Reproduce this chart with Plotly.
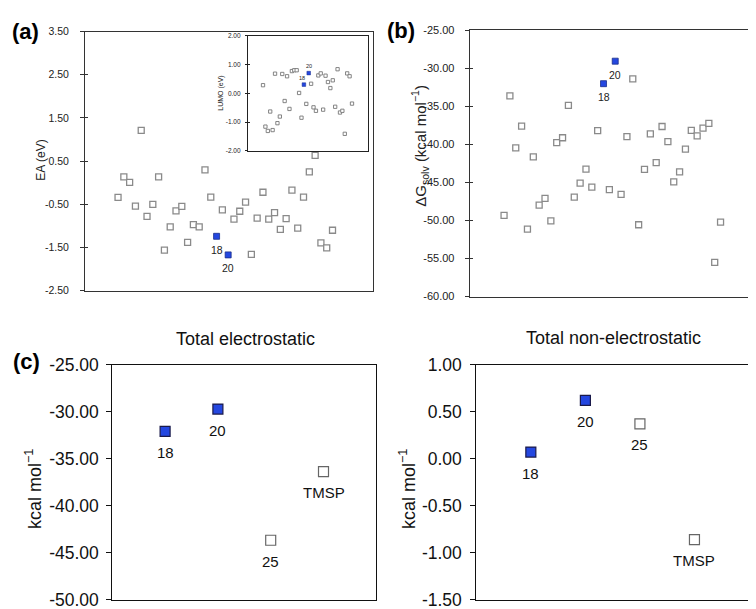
import plotly.graph_objects as go

# ---------------- data ----------------
compounds = list(range(1, 39))
highlight = [18, 20]

ea = [-0.34, 0.135, 0.01, -0.54, 1.21, -0.78, -0.50, 0.135, -1.56, -1.02,
      -0.65, -0.545, -1.38, -0.97, -1.02, 0.30, -0.335, -1.24, -0.63, -1.67,
      -0.84, -0.66, -0.45, -1.66, -0.82, -0.22, -0.84, -0.69, -1.08, -0.83,
      -0.17, -1.05, -0.335, 0.25, 0.635, -1.39, -1.51, -1.10]

lumo = [0.28, -1.16, -1.31, -0.635, -1.28, 0.68, -1.04, -0.81, 0.67, -0.27,
        0.59, -0.545, 0.77, 0.80, 0.80, 0.01, -0.85, 0.30, -0.37, 0.70,
        0.33, -0.49, -0.61, 0.62, 0.69, -0.57, 0.61, 0.39, 0.18, 0.45,
        -0.47, 0.835, -0.67, -0.61, -1.41, 0.69, 0.59, -0.36]

dg_solv = [-49.33, -33.63, -40.45, -37.61, -51.15, -41.63, -47.98, -47.09, -50.05, -39.77,
           -39.13, -34.86, -46.92, -45.10, -43.24, -45.61, -38.20, -32.02, -45.95, -29.06,
           -46.58, -38.97, -31.39, -50.56, -43.28, -38.63, -42.39, -37.65, -39.64, -44.93,
           -43.62, -40.62, -38.16, -38.88, -37.86, -37.23, -55.51, -50.22]

c_categories = ["18", "20", "25", "TMSP"]
c_blue = [True, True, False, False]
electrostatic = [-32.10, -29.73, -43.66, -36.37]
non_electrostatic = [0.07, 0.62, 0.37, -0.86]

ea_ticks = [3.5, 2.5, 1.5, 0.5, -0.5, -1.5, -2.5]
lumo_ticks = [2.0, 1.0, 0.0, -1.0, -2.0]
dg_ticks = [-25, -30, -35, -40, -45, -50, -55, -60]
el_ticks = [-25, -30, -35, -40, -45, -50]
nel_ticks = [1.0, 0.5, 0.0, -0.5, -1.0, -1.5]

# ---------------- style ----------------
W, H = 756, 609
FONT = "Liberation Sans, Arial, sans-serif"
BLUE = "#2447e0"
BLUE_EDGE = "#1b2f8a"
GREY = "#8a8a8a"


def px_x(p):
    return p / W


def px_y(p):
    return 1 - p / H


def split(xs, ys, hl):
    gx, gy, bx, by = [], [], [], []
    for x, y in zip(xs, ys):
        if x in hl:
            bx.append(x); by.append(y)
        else:
            gx.append(x); gy.append(y)
    return gx, gy, bx, by


fig = go.Figure()

# panel (a) main
gx, gy, bx, by = split(compounds, ea, highlight)
fig.add_trace(go.Scatter(x=gx, y=gy, mode="markers", xaxis="x", yaxis="y",
                         marker=dict(symbol="square", size=6, color="white",
                                     line=dict(color=GREY, width=1.3))))
fig.add_trace(go.Scatter(x=bx, y=by, mode="markers", xaxis="x", yaxis="y",
                         marker=dict(symbol="square", size=6, color=BLUE,
                                     line=dict(color=BLUE_EDGE, width=0.8))))
# inset
gx, gy, bx, by = split(compounds, lumo, highlight)
fig.add_trace(go.Scatter(x=gx, y=gy, mode="markers", xaxis="x2", yaxis="y2",
                         marker=dict(symbol="square", size=3.3, color="white",
                                     line=dict(color="#777777", width=0.9))))
fig.add_trace(go.Scatter(x=bx, y=by, mode="markers", xaxis="x2", yaxis="y2",
                         marker=dict(symbol="square", size=3.6, color=BLUE,
                                     line=dict(color=BLUE_EDGE, width=0.5))))
# panel (b)
gx, gy, bx, by = split(compounds, dg_solv, highlight)
fig.add_trace(go.Scatter(x=gx, y=gy, mode="markers", xaxis="x3", yaxis="y3",
                         marker=dict(symbol="square", size=6, color="white",
                                     line=dict(color=GREY, width=1.3))))
fig.add_trace(go.Scatter(x=bx, y=by, mode="markers", xaxis="x3", yaxis="y3",
                         marker=dict(symbol="square", size=6, color=BLUE,
                                     line=dict(color=BLUE_EDGE, width=0.8))))
# panel (c)
for vals, xa, ya in [(electrostatic, "x4", "y4"), (non_electrostatic, "x5", "y5")]:
    fig.add_trace(go.Scatter(
        x=c_categories, y=vals, mode="markers", xaxis=xa, yaxis=ya,
        marker=dict(symbol="square", size=10,
                    color=[BLUE if b else "white" for b in c_blue],
                    line=dict(color=["#1a1a4a" if b else "#666666" for b in c_blue],
                              width=1.2))))

# dummy traces for overlay tick axes
for ya in ["y6", "y7", "y8"]:
    base = {"y6": "x", "y7": "x3", "y8": "x2"}[ya]
    fig.add_trace(go.Scatter(x=[None], y=[None], xaxis=base, yaxis=ya,
                             mode="markers", hoverinfo="skip"))


def fmt(v):
    return f"{v:.2f}"


def yax(domain, rng, ticks, size, anchor, color="#222", standoff=6, ticklen=4,
        linecolor="#333", lw=1):
    return dict(domain=domain, range=rng, tickvals=ticks,
                ticktext=[fmt(t) for t in ticks], ticks="outside", ticklen=ticklen,
                tickcolor=linecolor, tickwidth=lw,
                tickfont=dict(size=size, color=color, family=FONT),
                showgrid=False, zeroline=False, showline=True, linecolor=linecolor,
                linewidth=lw, mirror=True, anchor=anchor, ticklabelstandoff=standoff)


def xax(domain, rng, anchor, linecolor="#333", lw=1, cat=False):
    d = dict(domain=domain, range=rng, showticklabels=False, ticks="",
             showgrid=False, zeroline=False, showline=True, linecolor=linecolor,
             linewidth=lw, mirror=True, anchor=anchor)
    if cat:
        d["type"] = "category"
    return d


def overlay(over, anchor, rng, ticks, ticklen, color="#333"):
    return dict(overlaying=over, anchor=anchor, range=rng, tickvals=ticks,
                ticks="inside", ticklen=ticklen, tickcolor=color, tickwidth=1,
                showticklabels=False, showgrid=False, zeroline=False, showline=False)


dom_a_x = [px_x(77), px_x(364.5)]
dom_a_y = [px_y(282), px_y(14)]
dom_i_x = [px_x(240), px_x(360)]
dom_i_y = [px_y(137.3), px_y(18.3)]
dom_b_x = [px_x(461.7), px_x(750)]
dom_b_y = [px_y(288), px_y(12.7)]
dom_c1_x = [px_x(104.3), px_x(368.3)]
dom_c2_x = [px_x(468.3), px_x(741)]
dom_c_y = [px_y(601.7), px_y(358.3)]

fig.update_layout(
    width=W, height=H, margin=dict(l=0, r=0, t=0, b=0),
    paper_bgcolor="white", plot_bgcolor="white", showlegend=False,
    font=dict(family=FONT, color="#222"),
    xaxis=xax(dom_a_x, [-4.7, 44.9], "y"),
    yaxis=yax(dom_a_y, [-2.5, 3.5], ea_ticks, 10.5, "x", standoff=9),
    xaxis2=xax(dom_i_x, [-5.24, 44.65], "y2", linecolor="#222", lw=1.3),
    yaxis2=yax(dom_i_y, [-2, 2], lumo_ticks, 6.5, "x2", standoff=3, ticklen=2,
               linecolor="#222", lw=1.3),
    xaxis3=xax(dom_b_x, [-4.87, 44.4], "y3"),
    yaxis3=yax(dom_b_y, [-60, -25], dg_ticks, 11, "x3", standoff=8),
    xaxis4=xax(dom_c1_x, [-1, 4], "y4", linecolor="#111", cat=True),
    yaxis4=yax(dom_c_y, [-50, -25], el_ticks, 17.5, "x4", color="#111", standoff=4,
               ticklen=5, linecolor="#111"),
    xaxis5=xax(dom_c2_x, [-1, 4], "y5", linecolor="#111", cat=True),
    yaxis5=yax(dom_c_y, [-1.5, 1.0], nel_ticks, 17.5, "x5", color="#111", standoff=5,
               ticklen=5, linecolor="#111"),
    yaxis6=overlay("y", "x", [-2.5, 3.5], ea_ticks, 3),
    yaxis7=overlay("y3", "x3", [-60, -25], dg_ticks, 3),
    yaxis8=overlay("y2", "x2", [-2, 2], lumo_ticks, 2, color="#222"),
)

ann = []
# point labels
lab_a = [("x", "y", ea), ("x3", "y3", dg_solv)]
for xa, ya, vals in lab_a:
    for c in highlight:
        ann.append(dict(x=c, y=vals[c - 1], xref=xa, yref=ya, text=str(c),
                        showarrow=False, yshift=-13.5,
                        font=dict(size=10.5, color="#222", family=FONT)))
# inset labels
ann.append(dict(x=20, y=lumo[19], xref="x2", yref="y2", text="20", showarrow=False,
                yshift=7.5, font=dict(size=5.5, color="#222", family=FONT)))
ann.append(dict(x=18, y=lumo[17], xref="x2", yref="y2", text="18", showarrow=False,
                xshift=-1.5, yshift=7, font=dict(size=5.5, color="#222", family=FONT)))
# panel c labels (category axes: position by category index)
for xa, ya, vals in [("x4", "y4", electrostatic), ("x5", "y5", non_electrostatic)]:
    for i, (cat, v) in enumerate(zip(c_categories, vals)):
        ann.append(dict(x=i, y=v, xref=xa, yref=ya, text=cat, showarrow=False,
                        yshift=-21, font=dict(size=15, color="#111", family=FONT)))


def paper_text(text, x, y, size, angle=0, bold=False, color="#222"):
    ann.append(dict(x=px_x(x), y=px_y(y), xref="paper", yref="paper",
                    text=f"<b>{text}</b>" if bold else text, showarrow=False,
                    textangle=angle, xanchor="center", yanchor="middle",
                    font=dict(size=size, color=color, family=FONT)))


paper_text("(a)", 17, 13.5, 22, bold=True, color="#000")
paper_text("(b)", 393, 13, 22, bold=True, color="#000")
paper_text("(c)", 18, 355, 22, bold=True, color="#000")
paper_text("EA (eV)", 33, 147.5, 12, angle=-90)
paper_text("LUMO (eV)", 213.3, 78, 7, angle=-90)
paper_text("ΔG<sub>solv</sub> (kcal mol<sup>−1</sup>)", 412, 132, 15, angle=-90)
paper_text("kcal mol<sup>−1</sup>", 25, 487, 18, angle=-90, color="#111")
paper_text("kcal mol<sup>−1</sup>", 399, 487, 18, angle=-90, color="#111")
paper_text("Total electrostatic", 237, 331.5, 18, color="#111")
paper_text("Total non-electrostatic", 605, 330.5, 18, color="#111")

fig.update_layout(annotations=ann)
fig.write_html("out.html")
